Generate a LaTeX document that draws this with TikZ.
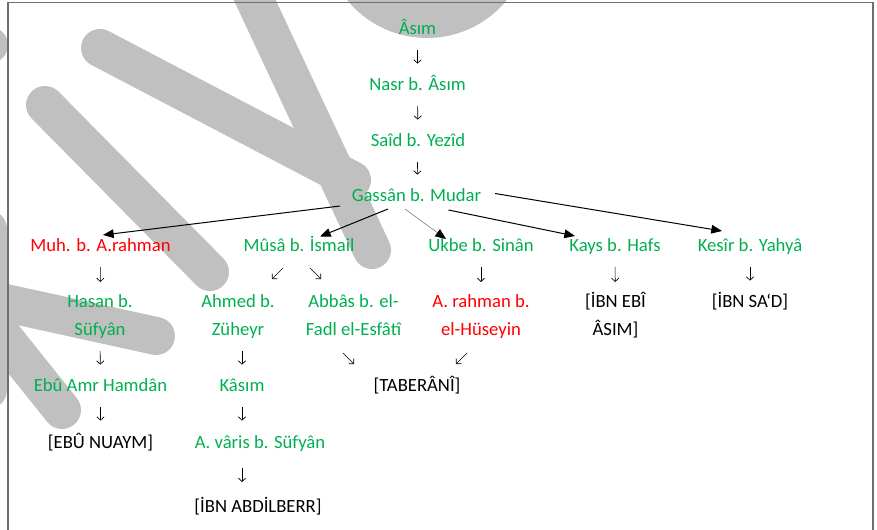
\documentclass[tikz,border=0pt]{standalone}
\usepackage{fontspec}
\setmainfont{Carlito}
\usetikzlibrary{positioning, arrows.meta, calc}
\definecolor{namegreen}{RGB}{0, 176, 80}
\definecolor{namered}{RGB}{255, 0, 0}
\definecolor{markgray}{RGB}{192, 192, 192}
\definecolor{framegray}{RGB}{110, 110, 110}
\tikzset{
    % Node Styles
    rawi/.style={
        anchor=base, inner sep=2pt, align=center,
        font=\fontsize{14pt}{21pt}\selectfont
    },
    trusted/.style={rawi, text=namegreen},
    weak/.style={rawi, text=namered},
    book/.style={rawi, text=black},
    % Arrow Styles
    main_arrow/.style={-{Triangle[length=8pt, width=6.5pt]}, line width=0.75pt},
    thin_arrow/.style={-{Triangle[length=8pt, width=6.5pt, black]}, line width=0.4pt, draw=black!55},
    small_arrow/.style={-{Straight Barb[length=2.6pt, width=5.5pt]}, line width=0.5pt},
    chain/.style={small_arrow, shorten <=11.25pt, shorten >=20.5pt},
    chain_two/.style={small_arrow, shorten <=11.25pt, shorten >=40.5pt},
    % Background
    wm_stroke/.style={markgray, line width=28.5pt, line cap=round},
    frame/.style={framegray, line width=1pt}
}

\begin{document}
\begin{tikzpicture}[x=0.75pt, y=-0.75pt, >=stealth]

    \useasboundingbox (0,0) rectangle (877,530);
    \clip (0,0) rectangle (877,530);

    % --- 0. Watermark and frame ---
    \fill [markgray] (427,-65) circle [radius=77.25pt];
    \fill [markgray] (-10,45) circle [radius=13.5pt];
    \draw [wm_stroke] (45,105) -- (210,272);
    \draw [wm_stroke] (100,48) -- (352,180);
    \draw [wm_stroke] (250,-10) -- (372,250);
    \draw [wm_stroke] (-40,293) -- (156,336);
    \draw [wm_stroke] (-50,270) -- (62,410);
    \draw [wm_stroke] (-12,229) -- (-12,390);
    \draw [frame] (8,530) -- (8,2.5) -- (873,2.5) -- (873,530);

    % --- 1. Main chain ---
    \node [trusted] (asim) at (417.5,35) {Âsım};
    \node [trusted] (nasr) at (417.5,91) {Nasr b. Âsım};
    \node [trusted] (said) at (418,147) {Saîd b. Yezîd};
    \node [trusted] (gassan) at (416.5,202) {Gassân b. Mudar};
    \draw [chain] (asim.base) -- (nasr.base);
    \draw [chain] (nasr.base) -- (said.base);
    \draw [chain] (said.base) -- (gassan.base);

    % --- 2. Students of Gassân ---
    \node [weak] (muh) at (100.5,252) {Muh. b. A.rahman};
    \node [trusted] (musa) at (299,252) {Mûsâ b. İsmail};
    \node [trusted] (ukbe) at (481,252) {Ukbe b. Sinân};
    \node [trusted] (kays) at (615,252) {Kays b. Hafs};
    \node [trusted] (kesir) at (750,252) {Kesîr b. Yahyâ};

    \draw [main_arrow] ([shift={(-76.5,4)}]gassan.base) -- ([shift={(2.5,-17)}]muh.base);
    \draw [main_arrow] ([shift={(-28.5,7)}]gassan.base) -- ([shift={(21,-15.5)}]musa.base);
    \draw [thin_arrow] ([shift={(-11.5,7)}]gassan.base) -- ([shift={(-35,-13)}]ukbe.base);
    \draw [main_arrow] ([shift={(32,8)}]gassan.base) -- ([shift={(-40,-16)}]kays.base);
    \draw [main_arrow] ([shift={(78.5,-8.5)}]gassan.base) -- ([shift={(-28,-21)}]kesir.base);

    % --- 3. Next generation (two-line nodes sit on their last line) ---
    \node [trusted] (hasan) at (100,336) {Hasan b.\\Süfyân};
    \node [trusted] (ahmed) at (238,336) {Ahmed b.\\Züheyr};
    \node [trusted] (abbas) at (353.5,336) {Abbâs b. el-\\Fadl el-Esfâtî};
    \node [weak] (rahman) at (481,336) {A. rahman b.\\el-Hüseyin};
    \node [book] (ebiasim) at (615.5,336) {[İBN EBÎ\\ÂSIM]};
    \node [book] (ibnsad) at (750,308) {[İBN SA‘D]};

    \draw [chain_two] (muh.base) -- (hasan.base);
    \draw [small_arrow] ([shift={(-16,16)}]musa.base) -- ++(-11,11);
    \draw [small_arrow] ([shift={(11,16)}]musa.base) -- ++(11,11);
    \draw [chain_two] (ukbe.base) -- (rahman.base);
    \draw [chain_two] (kays.base) -- (ebiasim.base);
    \draw [chain] (kesir.base) -- (ibnsad.base);

    % --- 4. Lower chains ---
    \node [trusted] (ebuamr) at (100.5,392) {Ebû Amr Hamdân};
    \node [trusted] (kasim) at (242,392) {Kâsım};
    \node [book] (taberani) at (417,392) {[TABERÂNÎ]};
    \node [book] (nuaym) at (100.5,448) {[EBÛ NUAYM]};
    \node [trusted] (varis) at (260,448) {A. vâris b. Süfyân};
    \node [book] (abdilberr) at (258,512) {[İBN ABDİLBERR]};

    \draw [chain] (hasan.base) -- (ebuamr.base);
    \draw [chain] (kasim.base |- ahmed.base) -- (kasim.base);
    \draw [small_arrow] ([shift={(-10.5,17)}]abbas.base) -- ++(11,11);
    \draw [small_arrow] ([shift={(-14,17)}]rahman.base) -- ++(-11,11);
    \draw [chain] (ebuamr.base) -- (nuaym.base);
    \draw [chain] (kasim.base) -- (kasim.base |- varis.base);
    \draw [small_arrow, shorten <=15pt, shorten >=22.5pt] (kasim.base |- varis.base) -- (kasim.base |- abdilberr.base);

\end{tikzpicture}
\end{document}
